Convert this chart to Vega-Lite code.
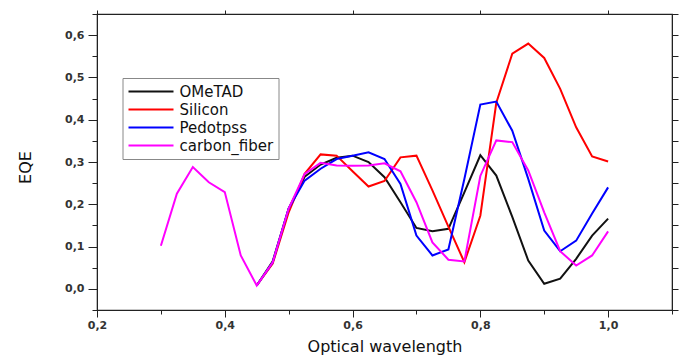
{
  "$schema": "https://vega.github.io/schema/vega-lite/v6.json",
  "width": 575,
  "height": 296,
  "autosize": {"type": "none"},
  "padding": {"left": 97, "top": 14, "right": 13, "bottom": 46},
  "background": "white",
  "config": {
    "view": {"stroke": "#222", "strokeWidth": 1.2},
    "axis": {"grid": false, "domainColor": "#222", "tickColor": "#222", "labelFont": "DejaVu Sans", "labelFontWeight": "bold", "labelFontSize": 11, "labelColor": "#333", "titleFont": "DejaVu Sans", "titleFontWeight": "normal", "titleFontSize": 16, "titleColor": "#111"},
    "legend": {"labelFont": "DejaVu Sans", "labelFontSize": 15, "labelColor": "#111"}
  },
  "data": {"values": [
    {"s": "OMeTAD", "x": 0.45, "y": 0.008}, {"s": "OMeTAD", "x": 0.475, "y": 0.065}, {"s": "OMeTAD", "x": 0.5, "y": 0.19}, {"s": "OMeTAD", "x": 0.525, "y": 0.265}, {"s": "OMeTAD", "x": 0.55, "y": 0.294}, {"s": "OMeTAD", "x": 0.575, "y": 0.31}, {"s": "OMeTAD", "x": 0.6, "y": 0.315}, {"s": "OMeTAD", "x": 0.625, "y": 0.3}, {"s": "OMeTAD", "x": 0.65, "y": 0.264}, {"s": "OMeTAD", "x": 0.675, "y": 0.205}, {"s": "OMeTAD", "x": 0.7, "y": 0.144}, {"s": "OMeTAD", "x": 0.725, "y": 0.136}, {"s": "OMeTAD", "x": 0.75, "y": 0.142}, {"s": "OMeTAD", "x": 0.775, "y": 0.228}, {"s": "OMeTAD", "x": 0.8, "y": 0.316}, {"s": "OMeTAD", "x": 0.825, "y": 0.268}, {"s": "OMeTAD", "x": 0.85, "y": 0.17}, {"s": "OMeTAD", "x": 0.875, "y": 0.067}, {"s": "OMeTAD", "x": 0.9, "y": 0.012}, {"s": "OMeTAD", "x": 0.925, "y": 0.024}, {"s": "OMeTAD", "x": 0.95, "y": 0.071}, {"s": "OMeTAD", "x": 0.975, "y": 0.126}, {"s": "OMeTAD", "x": 1.0, "y": 0.166},
    {"s": "Silicon", "x": 0.45, "y": 0.008}, {"s": "Silicon", "x": 0.475, "y": 0.06}, {"s": "Silicon", "x": 0.5, "y": 0.181}, {"s": "Silicon", "x": 0.525, "y": 0.272}, {"s": "Silicon", "x": 0.55, "y": 0.318}, {"s": "Silicon", "x": 0.575, "y": 0.315}, {"s": "Silicon", "x": 0.6, "y": 0.278}, {"s": "Silicon", "x": 0.625, "y": 0.242}, {"s": "Silicon", "x": 0.65, "y": 0.255}, {"s": "Silicon", "x": 0.675, "y": 0.311}, {"s": "Silicon", "x": 0.7, "y": 0.315}, {"s": "Silicon", "x": 0.725, "y": 0.233}, {"s": "Silicon", "x": 0.75, "y": 0.147}, {"s": "Silicon", "x": 0.775, "y": 0.063}, {"s": "Silicon", "x": 0.8, "y": 0.173}, {"s": "Silicon", "x": 0.825, "y": 0.44}, {"s": "Silicon", "x": 0.85, "y": 0.556}, {"s": "Silicon", "x": 0.875, "y": 0.58}, {"s": "Silicon", "x": 0.9, "y": 0.546}, {"s": "Silicon", "x": 0.925, "y": 0.473}, {"s": "Silicon", "x": 0.95, "y": 0.382}, {"s": "Silicon", "x": 0.975, "y": 0.313}, {"s": "Silicon", "x": 1.0, "y": 0.301},
    {"s": "Pedotpss", "x": 0.45, "y": 0.008}, {"s": "Pedotpss", "x": 0.475, "y": 0.063}, {"s": "Pedotpss", "x": 0.5, "y": 0.19}, {"s": "Pedotpss", "x": 0.525, "y": 0.256}, {"s": "Pedotpss", "x": 0.55, "y": 0.284}, {"s": "Pedotpss", "x": 0.575, "y": 0.307}, {"s": "Pedotpss", "x": 0.6, "y": 0.315}, {"s": "Pedotpss", "x": 0.625, "y": 0.323}, {"s": "Pedotpss", "x": 0.65, "y": 0.307}, {"s": "Pedotpss", "x": 0.675, "y": 0.248}, {"s": "Pedotpss", "x": 0.7, "y": 0.126}, {"s": "Pedotpss", "x": 0.725, "y": 0.079}, {"s": "Pedotpss", "x": 0.75, "y": 0.093}, {"s": "Pedotpss", "x": 0.775, "y": 0.26}, {"s": "Pedotpss", "x": 0.8, "y": 0.436}, {"s": "Pedotpss", "x": 0.825, "y": 0.443}, {"s": "Pedotpss", "x": 0.85, "y": 0.374}, {"s": "Pedotpss", "x": 0.875, "y": 0.26}, {"s": "Pedotpss", "x": 0.9, "y": 0.138}, {"s": "Pedotpss", "x": 0.925, "y": 0.089}, {"s": "Pedotpss", "x": 0.95, "y": 0.114}, {"s": "Pedotpss", "x": 0.975, "y": 0.178}, {"s": "Pedotpss", "x": 1.0, "y": 0.24},
    {"s": "carbon_fiber", "x": 0.3, "y": 0.102}, {"s": "carbon_fiber", "x": 0.325, "y": 0.225}, {"s": "carbon_fiber", "x": 0.35, "y": 0.288}, {"s": "carbon_fiber", "x": 0.375, "y": 0.252}, {"s": "carbon_fiber", "x": 0.4, "y": 0.229}, {"s": "carbon_fiber", "x": 0.425, "y": 0.079}, {"s": "carbon_fiber", "x": 0.45, "y": 0.008}, {"s": "carbon_fiber", "x": 0.475, "y": 0.063}, {"s": "carbon_fiber", "x": 0.5, "y": 0.19}, {"s": "carbon_fiber", "x": 0.525, "y": 0.272}, {"s": "carbon_fiber", "x": 0.55, "y": 0.298}, {"s": "carbon_fiber", "x": 0.575, "y": 0.292}, {"s": "carbon_fiber", "x": 0.6, "y": 0.291}, {"s": "carbon_fiber", "x": 0.625, "y": 0.292}, {"s": "carbon_fiber", "x": 0.65, "y": 0.297}, {"s": "carbon_fiber", "x": 0.675, "y": 0.278}, {"s": "carbon_fiber", "x": 0.7, "y": 0.205}, {"s": "carbon_fiber", "x": 0.725, "y": 0.11}, {"s": "carbon_fiber", "x": 0.75, "y": 0.069}, {"s": "carbon_fiber", "x": 0.775, "y": 0.065}, {"s": "carbon_fiber", "x": 0.8, "y": 0.267}, {"s": "carbon_fiber", "x": 0.825, "y": 0.351}, {"s": "carbon_fiber", "x": 0.85, "y": 0.347}, {"s": "carbon_fiber", "x": 0.875, "y": 0.28}, {"s": "carbon_fiber", "x": 0.9, "y": 0.181}, {"s": "carbon_fiber", "x": 0.925, "y": 0.089}, {"s": "carbon_fiber", "x": 0.95, "y": 0.055}, {"s": "carbon_fiber", "x": 0.975, "y": 0.079}, {"s": "carbon_fiber", "x": 1.0, "y": 0.136}
  ]},
  "layer": [
    {
      "mark": {"type": "line", "strokeWidth": 2},
      "encoding": {
        "x": {"field": "x", "type": "quantitative", "scale": {"domain": [0.2, 1.1], "nice": false, "zero": false},
          "axis": {"orient": "bottom", "title": "Optical wavelength", "titleY": 41, "titleBaseline": "alphabetic",
            "values": [0.2, 0.3, 0.4, 0.5, 0.6, 0.7, 0.8, 0.9, 1.0, 1.1],
            "labelExpr": "round(datum.value*10)%2==0 && datum.value<1.05 ? replace(format(datum.value,'.1f'),'.',',') : ''",
            "tickSize": {"condition": {"test": "round(datum.value*10)%2==0 && datum.value<1.05", "value": 7}, "value": 4},
            "labelPadding": 2, "labelFlush": false, "labelOverlap": false}},
        "y": {"field": "y", "type": "quantitative", "scale": {"domain": [-0.05, 0.65], "nice": false, "zero": false},
          "axis": {"orient": "left", "title": "EQE", "titleX": -67, "titleY": 153, "titleBaseline": "alphabetic", "titleAngle": -90,
            "values": [-0.05, 0.0, 0.05, 0.1, 0.15, 0.2, 0.25, 0.3, 0.35, 0.4, 0.45, 0.5, 0.55, 0.6, 0.65],
            "labelExpr": "round(datum.value*100)%10==0 && datum.value>-0.01 ? replace(format(datum.value,'.1f'),'.',',') : ''",
            "tickSize": {"condition": {"test": "round(datum.value*100)%10==0", "value": 9}, "value": 5},
            "labelPadding": 4, "labelFlush": false, "labelOverlap": false}},
        "color": {"field": "s", "type": "nominal",
          "scale": {"domain": ["OMeTAD", "Silicon", "Pedotpss", "carbon_fiber"], "range": ["#111111", "#ff0000", "#0000ff", "#ff00ff"]},
          "legend": {"title": null, "orient": "none", "legendX": 25.5, "legendY": 64, "symbolType": "M-1,0H5", "symbolSize": 225, "symbolStrokeWidth": 2, "labelOffset": 35, "rowPadding": 1, "padding": 5, "strokeColor": "#888", "fillColor": "white", "cornerRadius": 0}},
        "order": {"field": "x", "type": "quantitative"}
      }
    },
    {
      "mark": {"type": "point", "opacity": 0},
      "encoding": {
        "x": {"field": "x", "type": "quantitative", "scale": {"domain": [0.2, 1.1], "nice": false, "zero": false},
          "axis": {"orient": "top", "title": null, "labels": false, "values": [0.2, 0.4, 0.6, 0.8, 1.0], "tickSize": 4}},
        "y": {"field": "y", "type": "quantitative", "scale": {"domain": [-0.05, 0.65], "nice": false, "zero": false},
          "axis": {"orient": "right", "title": null, "labels": false, "values": [-0.05, 0.0, 0.05, 0.1, 0.15, 0.2, 0.25, 0.3, 0.35, 0.4, 0.45, 0.5, 0.55, 0.6, 0.65], "tickSize": 6}}
      }
    }
  ],
  "resolve": {"axis": {"x": "independent", "y": "independent"}}
}
